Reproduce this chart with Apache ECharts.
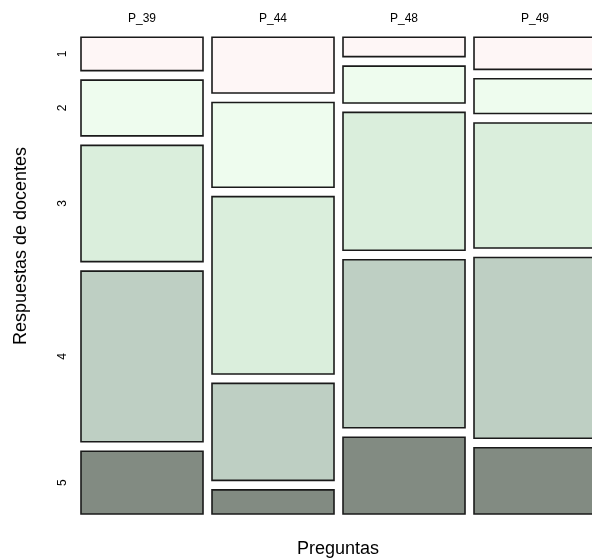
<!DOCTYPE html>
<html>
<head>
<meta charset="utf-8">
<script src="https://cdn.jsdelivr.net/npm/echarts@6/dist/echarts.min.js"></script>
<style>html,body{margin:0;padding:0;background:#fff}#c{width:592px;height:558px}</style>
</head>
<body>
<div id="c"></div>
<script>
const categories = ['P_39', 'P_44', 'P_48', 'P_49'];
const levels = ['1', '2', '3', '4', '5'];
// share (%) of each response level per question
const resp1 = [7.6, 12.7, 4.4, 7.3];
const resp2 = [12.7, 19.3, 8.4, 7.9];
const resp3 = [26.5, 40.4, 31.4, 28.5];
const resp4 = [38.9, 22.1, 38.3, 41.2];
const resp5 = [14.3, 5.5, 17.5, 15.1];
const levelColors = ['#fef6f6', '#eefcee', '#daeedc', '#becfc3', '#828b82'];

const GAP = 2.16; // gap between tiles, in axis units
const all = [resp1, resp2, resp3, resp4, resp5];
const data = [];
categories.forEach((c, ci) => {
  let cum = 0;
  all.forEach((arr, li) => {
    const v = arr[ci];
    data.push([ci, li, cum + li * GAP, cum + v + li * GAP]);
    cum += v;
  });
});

const chart = echarts.init(document.getElementById('c'));
chart.setOption({
  animation: false,
  backgroundColor: '#fff',
  grid: { left: 76.5, top: 37.3, right: 0, bottom: 44 },
  xAxis: {
    type: 'value', position: 'top', min: -0.5, max: 3.435,
    axisLine: { show: false }, axisTick: { show: false }, splitLine: { show: false },
    axisLabel: {
      customValues: [0, 1, 2, 3],
      formatter: v => categories[Math.round(v)],
      fontSize: 12, color: '#000', margin: 13, fontFamily: 'Liberation Sans'
    }
  },
  yAxis: {
    type: 'value', min: 0, max: 100 + 4 * GAP, inverse: true, show: false
  },
  graphic: [
    { type: 'text', x: 338, y: 549, style: { text: 'Preguntas', fontSize: 18, fill: '#000', fontFamily: 'Liberation Sans', align: 'center', verticalAlign: 'middle' } },
    { type: 'text', x: 21, y: 246, rotation: Math.PI / 2, style: { text: 'Respuestas de docentes', fontSize: 18, fill: '#000', fontFamily: 'Liberation Sans', align: 'center', verticalAlign: 'middle' } }
  ],
  series: [{
    type: 'custom',
    data: data,
    clip: false,
    renderItem: function (params, api) {
      const ci = api.value(0), li = api.value(1);
      const c = api.coord([ci, api.value(2)]);
      const e = api.coord([ci, api.value(3)]);
      const bw = api.size([1, 0])[0];
      const w = bw * 122 / 131;
      const x = c[0] - w / 2;
      const children = [{
        type: 'rect',
        shape: { x: x, y: c[1], width: w, height: e[1] - c[1] },
        style: { fill: levelColors[li], stroke: '#1a1a1a', lineWidth: 1.6 }
      }];
      if (ci === 0) {
        children.push({
          type: 'text', x: x - 18, y: (c[1] + e[1]) / 2, rotation: Math.PI / 2,
          style: { text: levels[li], fontSize: 12, fill: '#000', align: 'center', verticalAlign: 'middle', fontFamily: 'Liberation Sans' }
        });
      }
      return { type: 'group', children: children };
    }
  }]
});
</script>
</body>
</html>
